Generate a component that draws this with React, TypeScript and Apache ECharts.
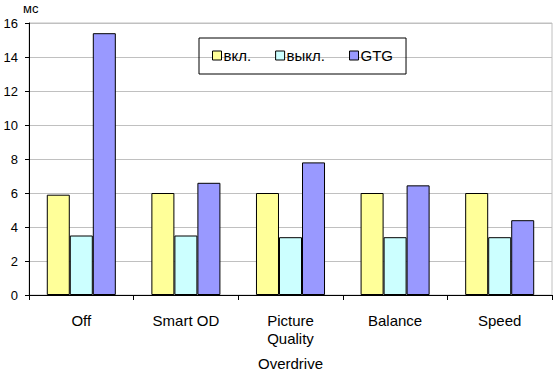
import React, { useEffect, useRef } from "react";
import * as echarts from "echarts";

const categories = ["Off", "Smart OD", "Picture\nQuality", "Balance", "Speed"];
const seriesNames = ["вкл.", "выкл.", "GTG"];
const onValues = [5.9, 6.0, 6.0, 6.0, 6.0];
const offValues = [3.5, 3.5, 3.4, 3.4, 3.4];
const gtgValues = [15.4, 6.6, 7.8, 6.45, 4.4];
const yTicks = { min: 0, max: 16, interval: 2 };
const yUnit = "мс";
const xTitle = "Overdrive";
const colors = ["#FFFF99", "#CCFFFF", "#9999FF"];

const FONT = "'Liberation Sans', Arial, sans-serif";

export default function App() {
  const ref = useRef<HTMLDivElement>(null);
  useEffect(() => {
    if (!ref.current) return;
    const chart = echarts.init(ref.current, null, { renderer: "svg" });
    const data = [onValues, offValues, gtgValues];
    chart.setOption({
      animation: false,
      textStyle: { fontFamily: FONT, color: "#000" },
      grid: {
        left: 29,
        right: 1,
        top: 23,
        bottom: 76,
        outerBoundsMode: "none",
        containLabel: false,
        show: true,
        borderColor: "#C0C0C0",
        borderWidth: 1,
      },
      legend: {
        left: 199,
        top: 38,
        orient: "horizontal",
        icon: "rect",
        itemWidth: 9,
        itemHeight: 9,
        itemGap: 24,
        borderColor: "#000",
        borderWidth: 1,
        padding: [10, 13, 11, 13],
        textStyle: { fontFamily: FONT, fontSize: 15, color: "#000", padding: [0, 0, 0, -3] },
        itemStyle: { borderColor: "#000", borderWidth: 1 },
        data: seriesNames,
      },
      xAxis: {
        type: "category",
        data: categories,
        name: xTitle,
        nameLocation: "middle",
        nameGap: 61,
        nameTextStyle: { fontFamily: FONT, fontSize: 15, color: "#000" },
        axisLine: { lineStyle: { color: "#000", width: 1 } },
        axisTick: { show: true, length: 5, lineStyle: { color: "#000" } },
        axisLabel: { fontFamily: FONT, fontSize: 15, color: "#000", margin: 16, lineHeight: 18 },
      },
      yAxis: {
        type: "value",
        min: yTicks.min,
        max: yTicks.max,
        interval: yTicks.interval,
        name: yUnit,
        nameLocation: "end",
        nameGap: 8,
        nameTextStyle: { fontFamily: FONT, fontSize: 13, color: "#000", align: "left", padding: [0, 0, 0, -6] },
        axisLine: { show: true, lineStyle: { color: "#000", width: 1 } },
        axisTick: { show: true, length: 4, lineStyle: { color: "#000" } },
        axisLabel: { fontFamily: FONT, fontSize: 13, color: "#000", margin: 11 },
        splitLine: { lineStyle: { color: "#C0C0C0", width: 1 } },
      },
      series: seriesNames.map((name, i) => ({
        name,
        type: "bar",
        data: data[i],
        barGap: "0%",
        barCategoryGap: "34%",
        itemStyle: { color: colors[i], borderColor: "#000", borderWidth: 1 },
      })),
    });
    return () => chart.dispose();
  }, []);
  return (
    <div
      ref={ref}
      style={{ position: "fixed", left: 0, top: 0, width: 553, height: 371, background: "#fff" }}
    />
  );
}
